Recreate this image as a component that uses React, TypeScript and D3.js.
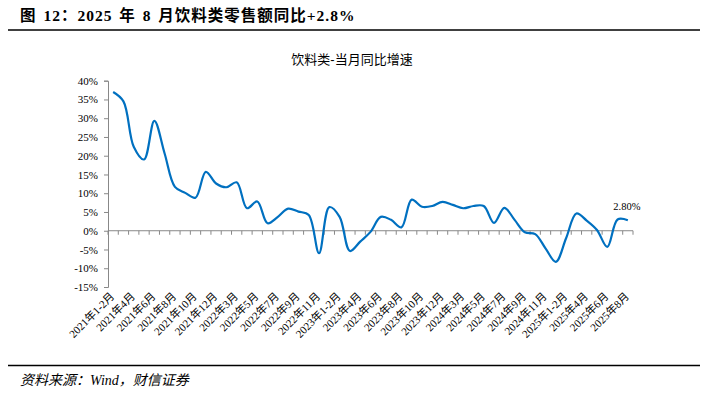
import React, { useEffect, useRef } from 'react';
import * as d3 from 'd3';

// 月份类目：2021年1-2月 ... 2025年8月
const years = ['2021', '2022', '2023', '2024', '2025'];
const monthsFull = ['1-2', '3', '4', '5', '6', '7', '8', '9', '10', '11', '12'];
const months2025 = ['1-2', '3', '4', '5', '6', '7', '8'];

const categories: string[] = years.flatMap(y =>
  (y === '2025' ? months2025 : monthsFull).map(m => `${y}年${m}月`)
);

// 饮料类当月同比（%）
const values = [
  37.0, 34.5, 22.4, 19.0, 29.3, 20.6, 11.7, 10.1, 8.8, 15.7, 12.6,
  11.6, 12.9, 6.0, 7.8, 2.0, 3.7, 5.9, 5.1, 4.2, -6.0, 6.3,
  3.7, -5.4, -2.9, -0.3, 3.7, 2.9, 0.9, 8.3, 6.4, 6.6, 7.7,
  6.9, 6.0, 6.6, 6.6, 2.1, 6.1, 2.9, -0.4, -0.9, -4.7, -8.3,
  -2.0, 4.6, 2.7, 0.2, -4.3, 3.0, 2.8,
];

const yTicks = [-15, -10, -5, 0, 5, 10, 15, 20, 25, 30, 35, 40];

const FONT = '"Liberation Serif", "Times New Roman", "Noto Sans CJK SC", serif';

const App = () => {
  const svgRef = useRef<SVGSVGElement>(null);

  useEffect(() => {
    const svg = d3.select(svgRef.current);
    svg.selectAll('*').remove();

    const left = 108, right = 633, top = 80.7, bottom = 287;

    const x = d3.scaleBand<string>()
      .domain(categories)
      .range([left, right]);

    const y = d3.scaleLinear()
      .domain([-15, 40])
      .range([bottom, top]);

    // header
    svg.append('text')
      .attr('x', 20)
      .attr('y', 21)
      .style('font-family', '"Liberation Serif", "Noto Sans CJK SC", serif')
      .style('font-weight', 'bold')
      .style('font-size', '15.5px')
      .style('letter-spacing', '1px')
      .style('word-spacing', '2px')
      .text('图 12：2025 年 8 月饮料类零售额同比+2.8%');

    svg.append('line')
      .attr('x1', 8).attr('x2', 700)
      .attr('y1', 30).attr('y2', 30)
      .style('stroke', '#000')
      .style('stroke-width', 1.6);

    // chart title
    svg.append('text')
      .attr('x', 352)
      .attr('y', 64)
      .attr('text-anchor', 'middle')
      .style('font-family', '"Liberation Sans", "Noto Sans CJK SC", sans-serif')
      .style('font-size', '13px')
      .text('饮料类-当月同比增速');

    // y axis
    const yAxis = svg.append('g')
      .attr('transform', `translate(${left},0)`)
      .call(d3.axisLeft(y).tickValues(yTicks).tickSize(4).tickFormat(d => `${d}%`));
    yAxis.select('.domain').style('stroke', '#888');
    yAxis.selectAll('line').style('stroke', '#888');
    yAxis.selectAll('text')
      .attr('x', -10)
      .style('font-family', FONT)
      .style('font-size', '11px')
      .style('fill', '#000');

    // x axis at 0%
    const y0 = y(0);
    svg.append('line')
      .attr('x1', left).attr('x2', right)
      .attr('y1', y0).attr('y2', y0)
      .style('stroke', '#888');

    const bounds = categories.map(c => x(c)!).concat([right]);
    svg.append('g')
      .selectAll('line')
      .data(bounds)
      .join('line')
      .attr('x1', d => d).attr('x2', d => d)
      .attr('y1', y0).attr('y2', y0 + 4)
      .style('stroke', '#888');

    // x labels, every 2nd category
    svg.append('g')
      .selectAll('text')
      .data(categories.filter((_, i) => i % 2 === 0))
      .join('text')
      .attr('transform', d => `translate(${x(d)! + x.bandwidth() / 2 + 2},${bottom + 10}) rotate(-45)`)
      .attr('text-anchor', 'end')
      .style('font-family', FONT)
      .style('font-size', '11px')
      .text(d => d);

    // line
    const line = d3.line<number>()
      .x((_, i) => x(categories[i])! + x.bandwidth() / 2)
      .y(d => y(d))
      .curve(d3.curveCatmullRom.alpha(0.5));

    svg.append('path')
      .datum(values)
      .attr('d', line)
      .style('fill', 'none')
      .style('stroke', '#0070C0')
      .style('stroke-width', 2.2);

    // last value label
    const last = values.length - 1;
    svg.append('text')
      .attr('x', x(categories[last])! + x.bandwidth() / 2 - 1)
      .attr('y', y(values[last]) - 10)
      .attr('text-anchor', 'middle')
      .style('font-family', FONT)
      .style('font-size', '10.5px')
      .text(`${values[last].toFixed(2)}%`);

    // footer
    svg.append('line')
      .attr('x1', 8).attr('x2', 700)
      .attr('y1', 365.5).attr('y2', 365.5)
      .style('stroke', '#000')
      .style('stroke-width', 1.6);

    svg.append('text')
      .attr('x', 20)
      .attr('y', 385)
      .style('font-family', '"Liberation Serif", "Noto Sans CJK SC", serif')
      .style('font-style', 'italic')
      .style('font-size', '14px')
      .text('资料来源：Wind，财信证券');
  }, []);

  return (
    <svg
      ref={svgRef}
      width={716}
      height={394}
      style={{ position: 'absolute', left: 0, top: 0, background: '#fff' }}
    />
  );
};

export default App;
